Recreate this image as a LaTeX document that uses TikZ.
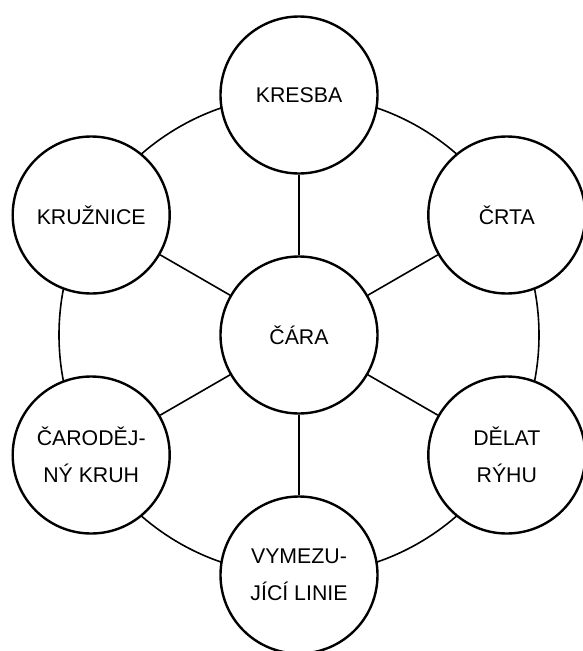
\documentclass[tikz,border=0pt]{standalone}
\usepackage{fontspec}
\setmainfont{Liberation Sans}
\begin{document}
\begin{tikzpicture}[x=1pt,y=-1pt,
  bubble/.style={circle,draw,line width=2.4pt,fill=white,minimum size=157pt,inner sep=0pt,align=center,font=\fontsize{21.3}{36.5}\selectfont},
  link/.style={line width=1.6pt}]
\useasboundingbox (0,0) rectangle (583,651);
\coordinate (o) at (299,335);
\draw[link] (o) circle[radius=240pt];
\node[bubble] (c) at (o) {ČÁRA};
\node[bubble] (n1) at (299,95) {KRESBA};
\node[bubble] (n2) at (506.8,215) {ČRTA};
\node[bubble] (n3) at (506.8,455) {DĚLAT\\RÝHU};
\node[bubble] (n4) at (299,575) {VYMEZU-\\JÍCÍ LINIE};
\node[bubble] (n5) at (91.2,455) {ČARODĚJ-\\NÝ KRUH};
\node[bubble] (n6) at (91.2,215) {KRUŽNICE};
\foreach \n in {n1,n2,n3,n4,n5,n6} \draw[link] (c) -- (\n);
\end{tikzpicture}
\end{document}
